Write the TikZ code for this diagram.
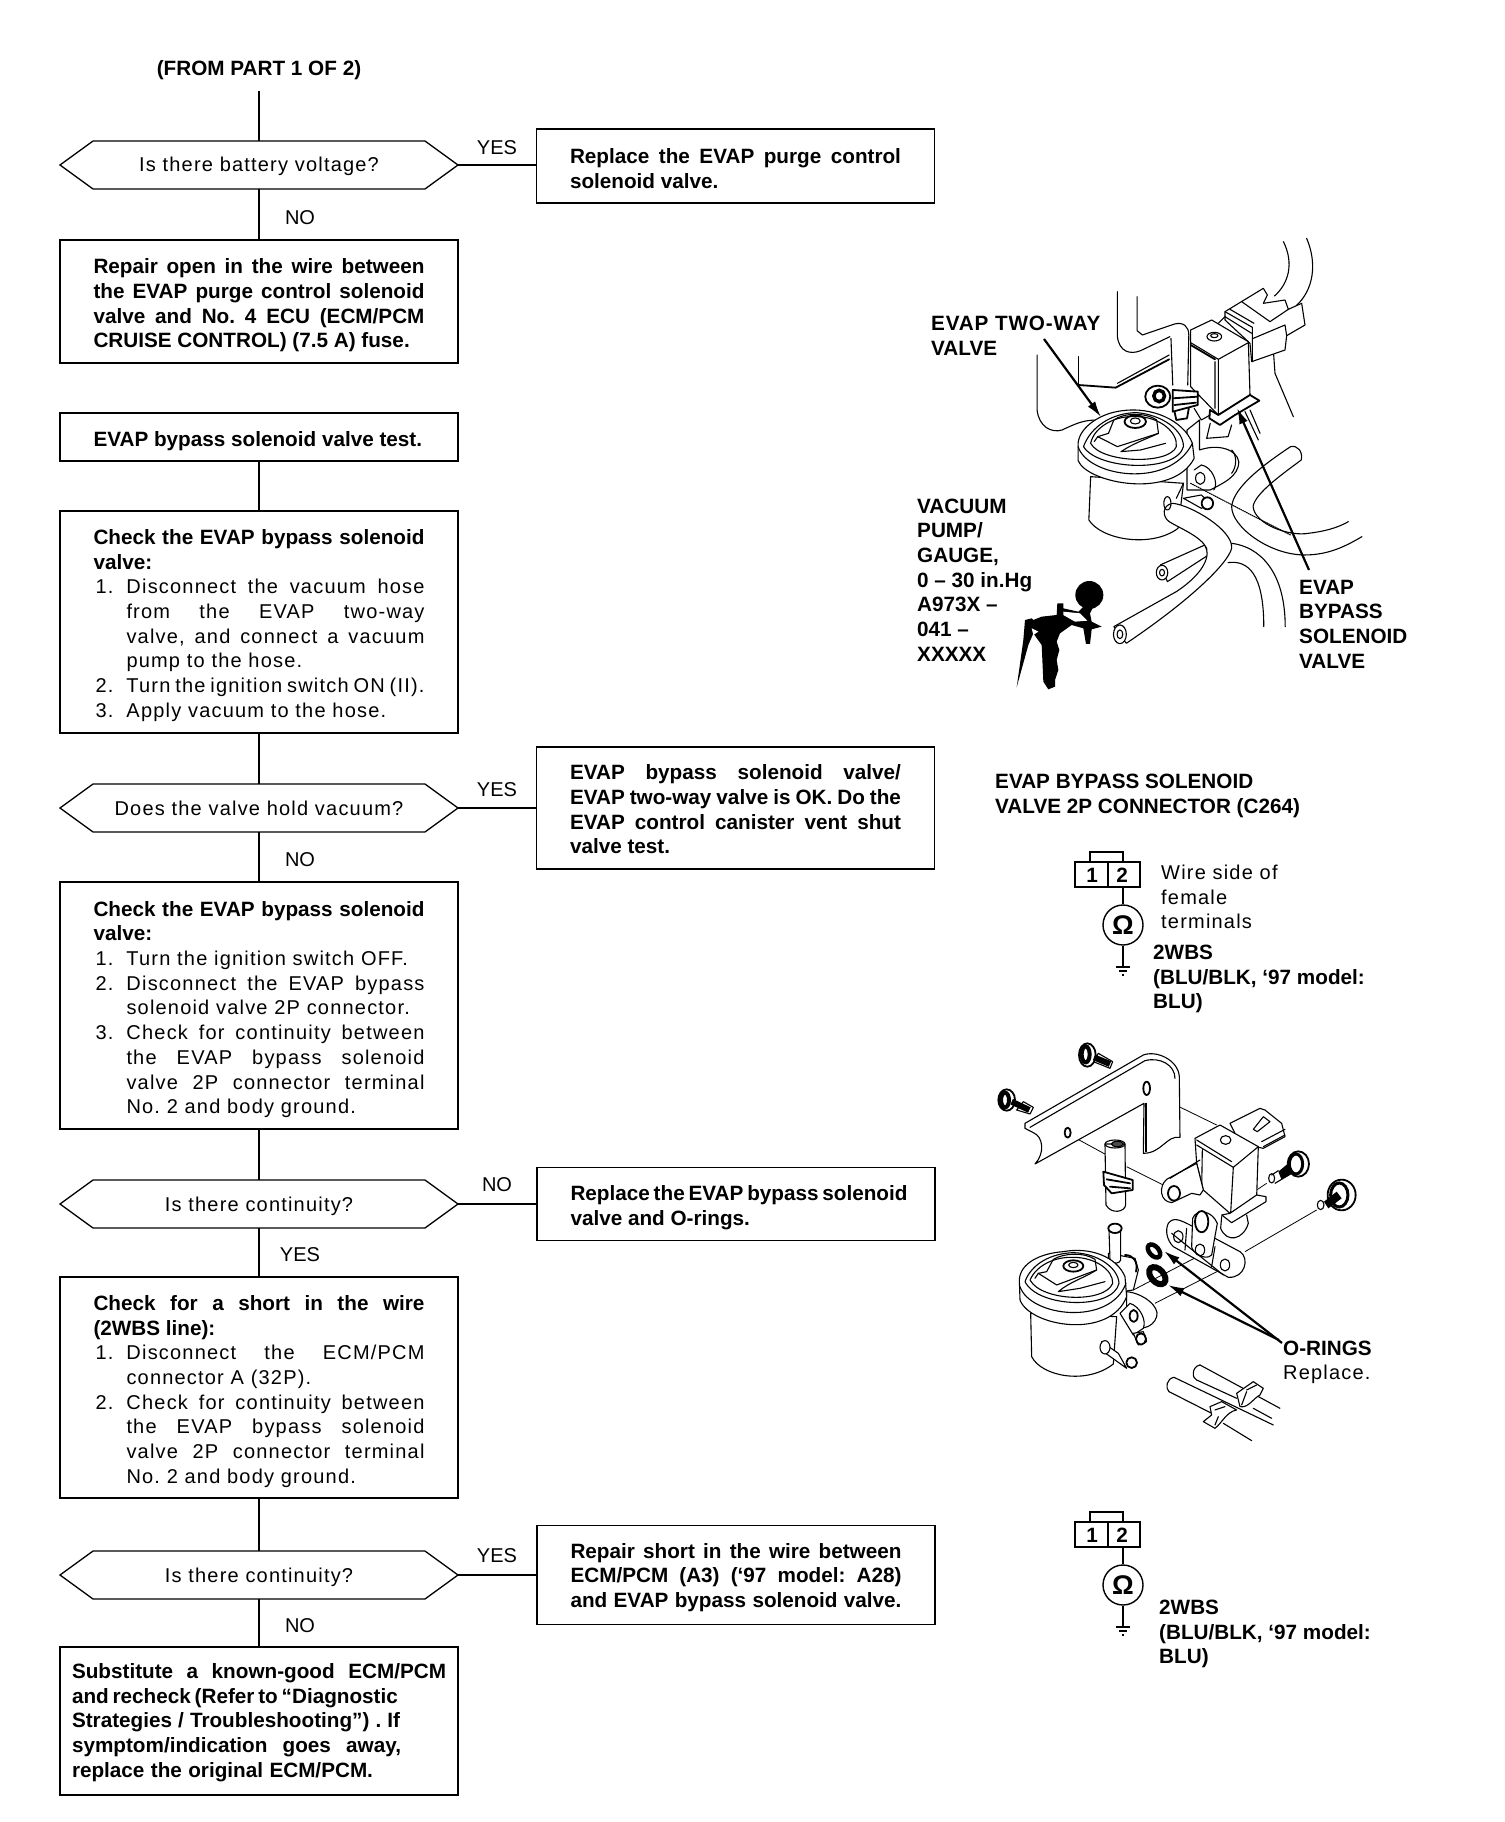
\documentclass[tikz,border=0pt]{standalone}
\usepackage{fontspec}
\setmainfont{Liberation Sans}
\newfontfamily\RegLS{Liberation Sans}[LetterSpace=6]
\usetikzlibrary{shapes.symbols,arrows.meta}
\newcommand{\Fs}{\fontsize{20}{24.7}\selectfont}
\newcommand{\Fr}{\fontsize{20}{24.7}\selectfont\RegLS}
\newcommand{\Fb}{\fontsize{20.7}{24.7}\selectfont\rmfamily\bfseries}
\newcommand{\Dn}[1]{\hrule height #1pt width 0pt}
\newcommand{\Jl}[1]{\hbox to \hsize{#1}}
\newcommand{\Rl}[1]{\hbox to \hsize{#1\hfil}}
\newcommand{\Ij}[2]{\hbox to \hsize{\hbox to 33pt{\hskip2pt #1\hfil}#2}}
\newcommand{\Ir}[2]{\Ij{#1}{#2\hfil}}
\tikzset{
  flow/.style={line width=1.3pt,draw=black},
  box/.style={flow,rectangle,inner sep=0pt,outer sep=0pt,minimum width=398pt,font=\Fr,text width=331pt,align=justify},
  rbox/.style={box,font=\Fb},
  ask/.style={flow,signal,signal to=east and west,signal pointer angle=72,inner sep=0pt,outer sep=0pt,minimum width=398pt,minimum height=48pt,font=\Fr,text height=14pt,text depth=0pt},
  lab/.style={font=\Fs,inner sep=0pt},
  lbl/.style={font=\Fb,inner sep=0pt,anchor=west,align=left},
  lbr/.style={font=\Fr,inner sep=0pt,anchor=west,align=left},
  il/.style={line width=1.1pt,line join=round,line cap=round},
  ilt/.style={line width=1.8pt,line join=round,line cap=round},
  guide/.style={line width=0.8pt},
  ptr/.style={line width=2.2pt,-{Latex[length=16pt,width=9pt]}},
  meterconn/.pic={
    \draw[line width=2.2pt] (35,32) rectangle (100,57);
    \draw[line width=1.3pt] (50,32)--(50,22)--(83,22)--(83,32);
    \draw[line width=1.1pt] (68,32)--(68,57);
    \node[font=\Fb,inner sep=0pt] (-one) at (52,45) {1};
    \node[font=\Fb,inner sep=0pt] (-two) at (82,45) {2};
    \node[draw,line width=1.4pt,circle,minimum size=40pt,inner sep=0pt,font=\fontsize{27}{27}\selectfont\bfseries] (-m) at (83,95) {Ω};
    \coordinate (-g) at (83,137);
    \draw[line width=1.2pt] (83,57)--(-m.north) (-m.south)--(-g);
    \draw[line width=1.2pt] (76,137)--(90,137) (79,141)--(87,141) (82,145)--(84,145);
  }
}
\begin{document}
\begin{tikzpicture}[x=1pt,y=-1pt]
\useasboundingbox (0,0) rectangle (1504,1822);
\fill[white] (0,0) rectangle (1504,1822);
\hbadness=10000 \hfuzz=40pt \frenchspacing

% ---------- flow column ----------
\node[font=\Fb,inner sep=0pt] (from) at (259,70) {(FROM PART 1 OF 2)};
\coordinate (start) at (259,91);
\node[ask] (q1) at (259,165) {Is there battery voltage?};
\node[rbox,minimum height=123pt] (rep1) at (259,301.5) {\Dn{8}\Jl{Repair open in the wire between}\Jl{the EVAP purge control solenoid}\Jl{valve and No. 4 ECU (ECM/PCM}\Rl{CRUISE CONTROL) (7.5 A) fuse.}};
\node[rbox,minimum height=48pt] (t1) at (259,437) {\Dn{8}\Rl{EVAP bypass solenoid valve test.}};
\node[box,minimum height=222pt] (c1) at (259,622) {\Dn{7}\Jl{\Fb Check the EVAP bypass solenoid}\Rl{\Fb valve:}
\Ij{1.}{Disconnect the vacuum hose}\Ij{}{from the EVAP two-way}\Ij{}{valve, and connect a vacuum}\Ir{}{pump to the hose.}
\Ir{2.}{Turn the ignition switch ON (II).}
\Ir{3.}{Apply vacuum to the hose.}};
\node[ask] (q2) at (259,808) {Does the valve hold vacuum?};
\node[box,minimum height=247pt] (c2) at (259,1005.5) {\Dn{8}\Jl{\Fb Check the EVAP bypass solenoid}\Rl{\Fb valve:}
\Ir{1.}{Turn the ignition switch OFF.}
\Ij{2.}{Disconnect the EVAP bypass}\Ir{}{solenoid valve 2P connector.}
\Ij{3.}{Check for continuity between}\Ij{}{the EVAP bypass solenoid}\Ij{}{valve 2P connector terminal}\Ir{}{No. 2 and body ground.}};
\node[ask] (q3) at (259,1204) {Is there continuity?};
\node[box,minimum height=221pt] (c3) at (259,1387.5) {\Dn{8}\Jl{\Fb Check for a short in the wire}\Rl{\Fb (2WBS line):}
\Ij{1.}{Disconnect the ECM/PCM}\Ir{}{connector A (32P).}
\Ij{2.}{Check for continuity between}\Ij{}{the EVAP bypass solenoid}\Ij{}{valve 2P connector terminal}\Ir{}{No. 2 and body ground.}};
\node[ask] (q4) at (259,1575) {Is there continuity?};
\node[rbox,minimum height=148pt,text width=374pt] (rep2) at (259,1721) {\Dn{3}\hbox to 374pt{Substitute a known-good ECM/PCM}\hbox to 324pt{and recheck (Refer to ``Diagnostic}\hbox to 328pt{Strategies / Troubleshooting'') . If}\hbox to 329pt{symptom/indication goes away,}\hbox to 301pt{replace the original ECM/PCM.}};

% ---------- right column ----------
\node[rbox,minimum height=74pt] (a1) at (735.5,166) {\Dn{5}\Jl{Replace the EVAP purge control}\Rl{solenoid valve.}};
\node[rbox,minimum height=122pt] (a2) at (735.5,808) {\Dn{3}\Jl{EVAP bypass solenoid valve/}\Jl{EVAP two-way valve is OK. Do the}\Jl{EVAP control canister vent shut}\Rl{valve test.}};
\node[rbox,minimum height=73pt] (a3) at (736,1204) {\Dn{7}\Jl{Replace the EVAP bypass solenoid}\Rl{valve and O-rings.}};
\node[rbox,minimum height=99pt] (a4) at (736,1575) {\Dn{5}\Jl{Repair short in the wire between}\Jl{ECM/PCM (A3) (`97 model: A28)}\Jl{and EVAP bypass solenoid valve.}};

\draw[flow] (start)--(q1.north);
\draw[flow] (q1.south)--(rep1.north);
\draw[flow] (t1.south)--(c1.north);
\draw[flow] (c1.south)--(q2.north);
\draw[flow] (q2.south)--(c2.north);
\draw[flow] (c2.south)--(q3.north);
\draw[flow] (q3.south)--(c3.north);
\draw[flow] (c3.south)--(q4.north);
\draw[flow] (q4.south)--(rep2.north);
\draw[flow] (q1.east)--(a1.west|-q1.east);
\draw[flow] (q2.east)--(a2.west|-q2.east);
\draw[flow] (q3.east)--(a3.west|-q3.east);
\draw[flow] (q4.east)--(a4.west|-q4.east);

\node[lab] (y1) at (497,148) {YES};
\node[lab] (n1) at (300,218) {NO};
\node[lab] (y2) at (497,790) {YES};
\node[lab] (n2) at (300,860) {NO};
\node[lab] (n3) at (497,1185) {NO};
\node[lab] (y3) at (300,1255) {YES};
\node[lab] (y4) at (497,1556) {YES};
\node[lab] (n4) at (300,1626) {NO};

% ---------- upper illustration ----------
\begin{scope}[shift={(880,220)},x=0.357pt,y=-0.3333pt]
\draw[il] (1130,65) .. controls (1160,130) and (1145,190) .. (1105,228);
\draw[il] (1195,55) .. controls (1225,130) and (1215,210) .. (1165,258);
\draw[il] (440,405)--(440,570) .. controls (445,620) and (480,640) .. (510,630) .. controls (550,610) and (570,600) .. (610,600);
\draw[il] (555,410)--(555,495);
\draw[ilt] (555,495)--(660,503)--(810,418);
\draw[il] (665,490)--(810,405);
% pipe
\draw[il] (665,215)--(665,350) .. controls (670,395) and (700,405) .. (730,392)--(812,350);
\draw[il] (720,230)--(720,332)--(735,345)--(825,312) .. controls (850,305) and (865,320) .. (865,345)--(862,495);
\draw[il] (815,355)--(820,495);
\end{scope}
% solenoid and connector
\begin{scope}[shift={(1170,270)},x=0.3333pt,y=-0.3333pt]
\draw[il] (310,240)--(315,310)--(370,440);
\draw[il,fill=white] (165,125)--(280,55)--(292,75)--(280,100)--(345,90)--(355,118)--(395,100)--(405,165)--(350,197)--(345,240)--(245,275)--(240,220)--(165,150)--cycle;
\draw[il] (165,125)--(247,172)--(247,275) (215,95)--(300,155)--(355,118) (250,205)--(345,165)--(350,197) (180,118)--(252,160);
\draw[il,fill=white] (62,180)--(125,150)--(235,215)--(240,375)--(145,435)--(125,415)--(62,350)--cycle;
\draw[il] (145,160)--(165,140)--(245,190);
\draw[il] (62,218)--(145,268)--(235,218) (145,268)--(145,435) (135,275)--(135,415);
\draw[ilt] (62,225)--(135,268);
\draw[il] (133,200) ellipse (22 and 13);
\draw[il] (133,197) ellipse (11 and 6);
\draw[ilt,fill=white] (240,375)--(268,392)--(195,435)--(150,465)--(118,445)--(120,420)--(145,435)--cycle;
\draw[il] (225,425)--(265,510) (240,420)--(270,490);
\end{scope}
\begin{scope}[shift={(880,220)},x=0.357pt,y=-0.3333pt]
\draw[il] (925,610)--(915,655)--(975,650)--(985,615);
% clip and nut
\draw[ilt,fill=white] (778,530) ellipse (35 and 33);
\draw[line width=3.5pt] (782,528) ellipse (15 and 17);
\draw[ilt,fill=white] (820,510)--(890,515)--(890,555)--(820,575)--cycle;
\draw[ilt] (820,535)--(890,530) (825,555)--(885,548);
\draw[ilt] (825,575)--(830,600)--(860,595)--(865,565);
\draw[il] (880,565)--(900,600)--(925,585);
% valve block
\draw[il,fill=white] (860,630)--(895,600)--(895,690) .. controls (950,670) and (1000,690) .. (1005,725) .. controls (1005,770) and (960,790) .. (925,810)--(860,810)--cycle;
\draw[il] (985,690) .. controls (1000,705) and (1000,740) .. (985,760);
\draw[il] (880,750)--(900,735) .. controls (930,740) and (950,790) .. (935,810);
\draw[il] (897,775) ellipse (13 and 18);
% valve
\draw[il,fill=white] (590,770)--(585,900) .. controls (620,960) and (760,985) .. (835,925)--(850,790)--cycle;
\draw[il,fill=white] (555,680)--(555,722) .. controls (580,790) and (820,840) .. (880,715)--(875,670) .. controls (850,600) and (760,560) .. (680,572) .. controls (610,580) and (550,630) .. (555,680)--cycle;
\draw[il] (555,680) .. controls (580,770) and (810,810) .. (875,670);
\draw[il] (570,680) .. controls (590,620) and (650,578) .. (720,578) .. controls (790,585) and (850,630) .. (850,680) .. controls (830,760) and (610,750) .. (570,680)--cycle;
\draw[il] (590,670) .. controls (600,620) and (660,585) .. (720,590) .. controls (780,590) and (835,635) .. (830,680) .. controls (810,735) and (620,730) .. (590,670)--cycle;
\draw[il] (600,665)--(610,650)--(640,640)--(655,600) .. controls (680,580) and (740,575) .. (775,600)--(780,640) .. controls (740,660) and (710,670) .. (675,695)--(730,690)--(800,670);
\draw[il] (610,650)--(665,680)--(780,640);
\draw[ilt] (715,605) ellipse (30 and 19);
\draw[il] (715,603) ellipse (14 and 9);
% tubes
\draw[il,fill=white] (1150,680) .. controls (1170,675) and (1185,695) .. (1180,720) .. controls (1130,760) and (1050,820) .. (1045,860) .. controls (1050,915) and (1150,950) .. (1200,940) .. controls (1240,935) and (1280,925) .. (1312,905);
\draw[il] (1150,680) .. controls (1080,730) and (990,800) .. (985,860) .. controls (985,920) and (1090,1005) .. (1190,1005) .. controls (1260,1005) and (1310,975) .. (1350,950);
\draw[il,densely dotted] (870,790)--(1040,885)--(1150,945);
\draw[il,fill=white] (785,1035)--(910,975)--(920,1005)--(805,1085)--cycle;
\draw[il,fill=white] (790,1058) ellipse (16 and 22);
\draw[il,fill=white] (790,1058) ellipse (7 and 10);
\draw[il] (985,970) .. controls (1060,980) and (1135,1050) .. (1135,1220);
\draw[il] (975,1028) .. controls (1030,1020) and (1075,1060) .. (1075,1220);
\draw[il,fill=white] (820,850) .. controls (870,855) and (990,930) .. (985,985) .. controls (975,1030) and (870,1140) .. (690,1270)--(655,1220)--(830,1115) .. controls (880,1080) and (925,1030) .. (915,985) .. controls (900,950) and (840,925) .. (810,905) .. controls (790,890) and (790,855) .. (820,850)--cycle;
\draw[il,fill=white] (672,1243) ellipse (18 and 28);
\draw[il,fill=white] (672,1243) ellipse (8 and 13);
\draw[il] (805,850) ellipse (10 and 20);
\draw[il,fill=white] (850,835)--(900,825)--(925,850)--(900,865)--cycle;
\draw[ilt,fill=white] (917,850) ellipse (16 and 18);
\draw[il] (850,790)--(830,835);
\end{scope}
% pump
\begin{scope}[shift={(1000,570)},x=0.3333pt,y=-0.3333pt]
\fill (268,75) ellipse (42 and 42);
\fill (75,150)--(95,145)--(100,150)--(125,140)--(170,135)--(172,100)--(190,100)--(190,115)--(235,125)--(255,105)--(280,110)--(270,130)--(275,155)--(305,170)--(275,178)--(270,222)--(258,222)--(250,175)--(215,165)--(180,190)--(170,215)--(178,240)--(170,270)--(175,300)--(165,330)--(165,350)--(145,358)--(130,335)--(125,225)--(100,190)--(85,225)--(50,352)--(70,210)--cycle;
\fill[white] (95,175)--(115,185)--(100,195)--cycle;
\fill[white] (190,125)--(240,130)--(262,152)--(225,155)--(190,135)--cycle;
\end{scope}
\node[lbl] (twoway) at (931,336) {{\addfontfeature{LetterSpace=4}EVAP TWO-WAY}\\VALVE};
\coordinate (twowaytip) at (1101,417);
\draw[ptr] (1044,339)--(twowaytip);
\node[lbl] (pump) at (917,580) {VACUUM\\PUMP/\\GAUGE,\\0 – 30 in.Hg\\A973X –\\041 –\\XXXXX};
\node[lbl] (bypass) at (1299,624) {EVAP\\BYPASS\\SOLENOID\\VALVE};
\coordinate (bypasstail) at (1309,570);
\coordinate (bypasstip) at (1237,408);
\draw[ptr] (bypasstail)--(bypasstip);

% ---------- connector 1 ----------
\node[lbl] (ctitle) at (995,796) {EVAP BYPASS SOLENOID\\VALVE 2P CONNECTOR (C264)};
\pic (cone) at (1040,830) {meterconn};
\node[lbr] (wire) at (1161,897) {Wire side of\\female\\terminals};
\node[lbl] (wbsa) at (1153,979) {2WBS\\(BLU/BLK, `97 model:\\BLU)};

% ---------- lower illustration ----------
\begin{scope}[shift={(970,1020)},x=0.3333pt,y=-0.3333pt]
% guides
\draw[guide] (535,215)--(740,315) (300,345)--(410,405) (470,440)--(580,495);
\draw[guide] (1040,570)--(825,695);
\draw[guide] (890,490)--(860,510);
\draw[guide] (490,810)--(740,680) (555,850)--(770,740);
% bolts
\draw[il,fill=white] (160,245)--(190,262)--(180,282)--(140,270)--cycle;
\draw[ilt,fill=white] (110,240) ellipse (25 and 32);
\draw[line width=4pt] (105,240) ellipse (12 and 22);
\draw[line width=6pt] (125,245)--(178,270);
\draw[il,fill=white] (385,100)--(428,125)--(420,145)--(370,125)--cycle;
\draw[ilt,fill=white] (352,105) ellipse (25 and 35);
\draw[line width=4pt] (347,103) ellipse (12 and 24);
\draw[line width=6pt] (372,112)--(420,132);
% bracket
\draw[il,fill=white] (165,310)--(520,105) .. controls (560,90) and (625,120) .. (628,170)--(630,352) .. controls (590,345) and (575,400) .. (520,400)--(522,250)--(195,432) .. controls (225,400) and (220,350) .. (190,338)--(165,325)--cycle;
\draw[il] (180,322)--(525,122) .. controls (570,110) and (615,135) .. (615,175);
\draw[il] (528,250)--(528,395);
\draw[ilt,fill=white] (530,205) ellipse (10 and 20);
\draw[ilt,fill=white] (293,338) ellipse (9 and 15);
% tube with clamp
\draw[il,fill=white] (405,372)--(408,555) .. controls (425,585) and (465,575) .. (467,555)--(465,372)--cycle;
\draw[il] (435,372) ellipse (30 and 12);
\draw[il,fill=black!70] (442,372) ellipse (18 and 8);
\draw[ilt,fill=white] (400,455)--(488,480)--(488,510)--(425,520)--(402,495)--cycle;
\draw[ilt] (410,478)--(480,490) (420,500)--(480,505);
% solenoid
\draw[il,fill=white] (780,310)--(870,265)--(885,270)--(935,310)--(945,350)--(880,385)--(810,370)--cycle;
\draw[il] (850,328)--(880,290)--(900,305)--(862,335)--cycle (875,365)--(945,328) (880,380)--(945,345);
\draw[il,fill=white] (675,355)--(750,315)--(865,380)--(860,530)--(780,580)--(700,510)--(680,430)--cycle;
\draw[il] (680,375)--(790,442)--(865,380) (790,442)--(782,580) (697,390)--(695,510) (680,360)--(785,425);
\draw[il] (767,360) ellipse (16 and 13);
\draw[il,fill=white] (680,430)--(590,478) .. controls (565,500) and (570,545) .. (605,548)--(665,520)--(690,525)--(700,510)--cycle;
\draw[il] (690,420)--(600,475);
\draw[ilt,fill=white] (612,520) ellipse (18 and 22);
\draw[il,fill=white] (860,525)--(888,530)--(888,545)--(785,608)--(755,585)--(780,580)--cycle;
\draw[il] (755,590)--(752,625) .. controls (770,670) and (820,660) .. (835,610)--(830,585);
% nearby bolts
\draw[ilt,fill=white] (985,432) ellipse (32 and 38);
\draw[line width=3pt] (978,432) ellipse (20 and 30);
\fill (925,455)--(955,430)--(972,458)--(935,480)--cycle;
\draw[il,fill=white] (905,475) ellipse (9 and 14);
\draw[il] (905,465)--(925,452) (915,490)--(935,478);
\draw[ilt,fill=white] (1115,525) ellipse (42 and 46);
\draw[line width=3pt] (1108,525) ellipse (26 and 36);
\fill (1062,545)--(1100,515)--(1115,535)--(1075,565)--cycle;
\draw[il,fill=white] (1052,555) ellipse (10 and 14);
% flange
\draw[il,fill=white] (595,610) .. controls (610,590) and (630,600) .. (660,615)--(810,695) .. controls (840,715) and (825,775) .. (775,772)--(610,680) .. controls (590,660) and (585,630) .. (595,610)--cycle;
\draw[il,fill=white] (668,595) .. controls (680,565) and (725,570) .. (742,610)--(725,705) .. controls (705,725) and (665,695) .. (665,680)--cycle;
\draw[ilt,fill=white] (695,605) ellipse (20 and 32);
\draw[il] (625,650) ellipse (14 and 18);
\draw[il] (690,690) ellipse (14 and 18);
\draw[il] (765,735) ellipse (14 and 18);
\draw[il] (650,625)--(645,690) (735,680)--(725,740) (605,640)--(760,765);
% O-rings
\draw[line width=4.5pt,rotate around={-48:(552,693)}] (552,693) ellipse (23 and 14);
\draw[line width=6pt,rotate around={-48:(562,767)}] (562,767) ellipse (30 and 19);
% valve
\draw[il,fill=white] (415,700)--(495,715)--(505,750)--(490,810)--(420,820)--cycle;
\draw[ilt] (465,705) .. controls (490,705) and (505,725) .. (498,755);
\draw[il,fill=white] (470,815) .. controls (520,820) and (570,860) .. (560,890) .. controls (550,925) and (500,940) .. (470,900)--cycle;
\draw[il,fill=white] (450,880)--(480,850) .. controls (510,860) and (530,900) .. (520,925)--(490,945)--cycle;
\draw[ilt] (491,888) ellipse (12 and 18);
\draw[il,fill=white] (417,630)--(420,720) .. controls (430,735) and (450,730) .. (452,720)--(452,630)--cycle;
\draw[ilt,fill=white] (435,625) ellipse (20 and 14);
\draw[il,fill=white] (182,880)--(185,1010) .. controls (215,1070) and (350,1095) .. (430,1032)--(440,890)--cycle;
\draw[il,fill=white] (148,780)--(150,840) .. controls (180,920) and (420,960) .. (470,830)--(465,770) .. controls (440,710) and (360,680) .. (280,695) .. controls (210,700) and (150,730) .. (148,780)--cycle;
\draw[il] (150,800) .. controls (180,890) and (420,920) .. (468,790);
\draw[il] (165,785) .. controls (185,730) and (245,700) .. (310,698) .. controls (385,700) and (445,745) .. (447,790) .. controls (430,870) and (205,865) .. (165,785)--cycle;
\draw[il] (180,780) .. controls (200,735) and (255,710) .. (310,712) .. controls (375,712) and (430,750) .. (428,790) .. controls (405,850) and (215,845) .. (180,780)--cycle;
\draw[il] (195,775)--(205,760)--(230,755)--(250,718) .. controls (280,700) and (340,695) .. (375,718)--(380,750) .. controls (340,775) and (300,785) .. (265,815)--(330,805)--(405,785);
\draw[il] (205,760)--(260,795)--(380,750);
\draw[ilt] (310,738) ellipse (30 and 17);
\draw[il] (310,735) ellipse (14 and 8);
% nipples
\draw[il,fill=white] (395,965)--(445,1000)--(470,1045)--(400,995)--cycle;
\draw[ilt,fill=white] (485,1028) ellipse (16 and 16);
\draw[il,fill=white] (405,982) ellipse (15 and 20);
\draw[il,fill=white] (490,940)--(520,935)--(530,965)--(505,975)--cycle;
\draw[ilt,fill=white] (513,957) ellipse (15 and 17);
% lower hoses
\draw[il] (690,1035)--(930,1165);
\draw[il] (680,1080)--(800,1135) (850,1165)--(905,1195);
\draw[il] (690,1035) .. controls (665,1040) and (665,1075) .. (680,1080);
\draw[il] (612,1072)--(910,1215);
\draw[il] (597,1115)--(725,1180) (760,1210)--(845,1262);
\draw[il] (612,1072) .. controls (590,1075) and (585,1105) .. (597,1115);
\draw[il,fill=white] (800,1120)--(850,1085)--(880,1105)--(870,1125) .. controls (850,1135) and (835,1165) .. (810,1160)--cycle;
\draw[il] (830,1110)--(860,1095) (830,1115)--(815,1155);
\draw[il,fill=white] (720,1160)--(755,1145)--(800,1170) .. controls (770,1175) and (755,1210) .. (735,1225)--(700,1205)--(725,1185)--cycle;
\draw[il] (735,1170)--(765,1160) (745,1190)--(735,1215);
\end{scope}
\node[lbl] (rings) at (1283,1348) {O-RINGS};
\node[lbr] (repl) at (1283,1374) {Replace.};
\coordinate (ra) at (1282,1343);
\coordinate (rb) at (1279,1340);
\draw[ptr] (ra)--(1164,1251);
\draw[ptr] (rb)--(1168,1285);

% ---------- connector 2 ----------
\pic (ctwo) at (1040,1490) {meterconn};
\node[lbl] (wbsb) at (1159,1634) {2WBS\\(BLU/BLK, `97 model:\\BLU)};
\end{tikzpicture}
\end{document}
